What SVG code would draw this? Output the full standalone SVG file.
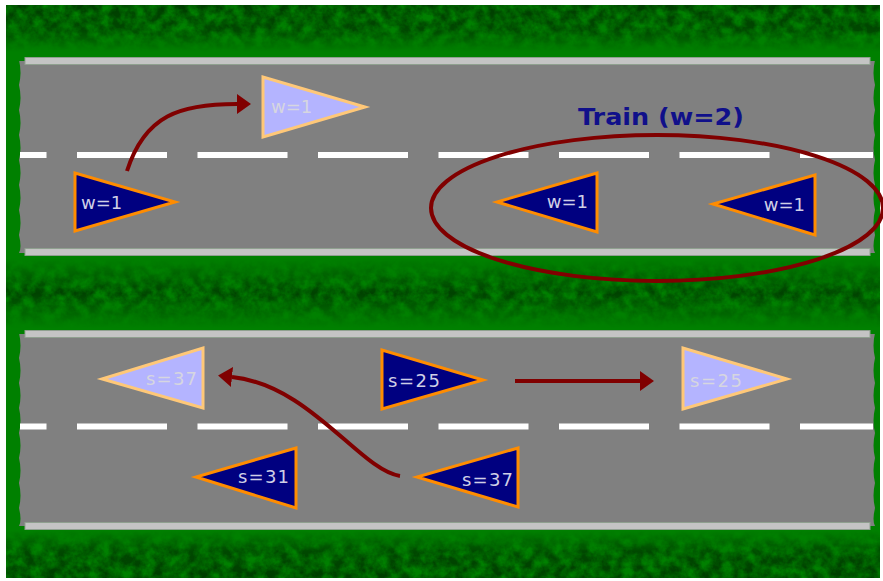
<svg xmlns="http://www.w3.org/2000/svg" width="883" height="581" viewBox="0 0 883 581">
<style>
.road{fill:#808080}
.curb{fill:#c4c4c4;stroke:#8fa08f;stroke-width:1}
.dash{stroke:#ffffff;stroke-width:6;stroke-dasharray:90 30.5;stroke-dashoffset:63.5;fill:none}
.dark{fill:#000080;stroke:#ff8c00;stroke-width:3;stroke-linejoin:miter}
.light{fill:#b4b4ff;stroke:#ffc878;stroke-width:3;stroke-linejoin:miter}
.tdark{font-family:"DejaVu Sans",sans-serif;font-size:18px;fill:#cfcfe6}
.tlight{font-family:"DejaVu Sans",sans-serif;font-size:18px;fill:#d6d6e0}
.conn{fill:none;stroke:#800000;stroke-width:4}
.label{font-family:"DejaVu Sans",sans-serif;font-weight:bold;font-size:23px;fill:#10108a}
</style>
<defs>
<marker id="ah" markerUnits="userSpaceOnUse" viewBox="0 0 14 20" markerWidth="14" markerHeight="20" refX="0" refY="10" orient="auto">
<path d="M0,0 L14,10 L0,20 z" fill="#800000"/>
</marker>
<linearGradient id="gTop" x1="0" y1="0" x2="0" y2="1">
<stop offset="0" stop-color="#003a00" stop-opacity="0.95"/>
<stop offset="0.55" stop-color="#003a00" stop-opacity="0.8"/>
<stop offset="1" stop-color="#003a00" stop-opacity="0"/>
</linearGradient>
<linearGradient id="gMid" x1="0" y1="0" x2="0" y2="1">
<stop offset="0" stop-color="#003a00" stop-opacity="0"/>
<stop offset="0.5" stop-color="#003a00" stop-opacity="0.9"/>
<stop offset="1" stop-color="#003a00" stop-opacity="0"/>
</linearGradient>
<linearGradient id="gBot" x1="0" y1="0" x2="0" y2="1">
<stop offset="0" stop-color="#003a00" stop-opacity="0"/>
<stop offset="0.45" stop-color="#003a00" stop-opacity="0.8"/>
<stop offset="1" stop-color="#003a00" stop-opacity="0.95"/>
</linearGradient>
<filter id="noise" x="0" y="0" width="100%" height="100%" color-interpolation-filters="sRGB">
<feTurbulence type="fractalNoise" baseFrequency="0.09" numOctaves="4" seed="7" result="n"/>
<feColorMatrix in="n" type="matrix" values="0 0 0 0 1  0 0 0 0 1  0 0 0 0 1  2 0 0 0 -0.45" result="m"/>
<feGaussianBlur in="m" stdDeviation="0.6" result="mb"/>
<feComposite in="SourceGraphic" in2="mb" operator="arithmetic" k1="1" k2="0" k3="0" k4="0"/>
</filter>
</defs>

<g id="background">
<rect x="0" y="0" width="883" height="581" fill="#ffffff"/>
<rect x="6" y="5" width="874" height="573" fill="#008000"/>
<rect x="6" y="5" width="874" height="47" fill="url(#gTop)" filter="url(#noise)"/>
<rect x="6" y="258" width="874" height="70" fill="url(#gMid)" filter="url(#noise)"/>
<rect x="6" y="530" width="874" height="48" fill="url(#gBot)" filter="url(#noise)"/>
</g>

<g id="road1">
<rect class="road" x="18" y="61" width="859" height="192"/>
<path fill="#008000" d="M6,60 L19,60 q3,12.5 0,25 q3,12.5 0,25 q3,12.5 0,25 q3,12.5 0,25 q3,12.5 0,25 q3,12.5 0,25 q3,12.5 0,25 q3,12.5 0,18 L6,253 z"/>
<path fill="#008000" d="M880,60 L875,60 q-3,12.5 0,25 q-3,12.5 0,25 q-3,12.5 0,25 q-3,12.5 0,25 q-3,12.5 0,25 q-3,12.5 0,25 q-3,12.5 0,25 q-3,12.5 0,18 L880,253 z"/>
<rect class="curb" x="25" y="57.5" width="845" height="7"/>
<rect class="curb" x="25" y="248.5" width="845" height="7"/>
<line class="dash" x1="20" y1="155" x2="873" y2="155"/>
</g>

<g id="road2">
<rect class="road" x="18" y="334" width="859" height="192"/>
<path fill="#008000" d="M6,333 L19,333 q3,12.5 0,25 q3,12.5 0,25 q3,12.5 0,25 q3,12.5 0,25 q3,12.5 0,25 q3,12.5 0,25 q3,12.5 0,25 q3,12.5 0,18 L6,526 z"/>
<path fill="#008000" d="M880,333 L875,333 q-3,12.5 0,25 q-3,12.5 0,25 q-3,12.5 0,25 q-3,12.5 0,25 q-3,12.5 0,25 q-3,12.5 0,25 q-3,12.5 0,25 q-3,12.5 0,18 L880,526 z"/>
<rect class="curb" x="25" y="330.5" width="845" height="7"/>
<rect class="curb" x="25" y="522.5" width="845" height="7"/>
<line class="dash" x1="20" y1="426.5" x2="873" y2="426.5"/>
</g>

<g id="train">
<ellipse cx="657" cy="208" rx="226" ry="73" fill="none" stroke="#800000" stroke-width="4"/>
<text class="label" x="578" y="125" textLength="166" lengthAdjust="spacingAndGlyphs">Train (w=2)</text>
</g>

<g id="car-w1-a">
<polygon class="dark" points="75,173 75,231 175,202"/>
<text class="tdark" x="81" y="209">w=1</text>
</g>
<g id="car-w1-ghost">
<polygon class="light" points="263,77 263,137 365,107"/>
<text class="tlight" x="271" y="113">w=1</text>
</g>
<g id="car-w1-b">
<polygon class="dark" points="597,173 597,232 497,202"/>
<text class="tdark" x="588" y="208" text-anchor="end">w=1</text>
</g>
<g id="car-w1-c">
<polygon class="dark" points="815,175 815,235 713,204"/>
<text class="tdark" x="805" y="211" text-anchor="end">w=1</text>
</g>

<g id="car-s37-ghost">
<polygon class="light" points="203,348 203,408 102,379"/>
<text class="tlight" x="197" y="385" text-anchor="end" textLength="51">s=37</text>
</g>
<g id="car-s31">
<polygon class="dark" points="296,448 296,508 196,477"/>
<text class="tdark" x="289" y="483" text-anchor="end" textLength="51">s=31</text>
</g>
<g id="car-s25">
<polygon class="dark" points="382,350 382,409 483,380"/>
<text class="tdark" x="388" y="387" textLength="52">s=25</text>
</g>
<g id="car-s37">
<polygon class="dark" points="518,448 518,507 417,477"/>
<text class="tdark" x="513" y="486" text-anchor="end" textLength="51">s=37</text>
</g>
<g id="car-s25-ghost">
<polygon class="light" points="683,348 683,409 787,379"/>
<text class="tlight" x="690" y="387" textLength="52">s=25</text>
</g>

<g id="connectors">
<path class="conn" d="M127,171 C145,115 180,104 237,104" marker-end="url(#ah)"/>
<path class="conn" d="M400,476 C360,470 310,385 232,377" marker-end="url(#ah)"/>
<path class="conn" d="M515,381 L640,381" marker-end="url(#ah)"/>
</g>
</svg>
